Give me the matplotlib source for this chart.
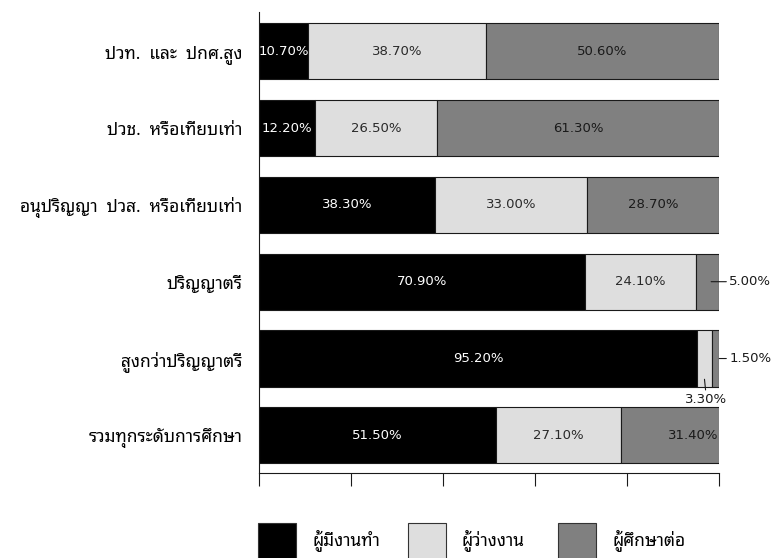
"""Horizontal 100% stacked bar chart of education level vs. employment status"""

import matplotlib
matplotlib.use("Agg")
import matplotlib.pyplot as plt
import numpy as np
from matplotlib.patches import Rectangle

# Data (top row first, as in the picture)
categories = [
    "ปวท.  และ  ปกศ.สูง",
    "ปวช.  หรือเทียบเท่า",
    "อนุปริญญา  ปวส.  หรือเทียบเท่า",
    "ปริญญาตรี",
    "สูงกว่าปริญญาตรี",
    "รวมทุกระดับการศึกษา",
]
employed = [10.7, 12.2, 38.3, 70.9, 95.2, 51.5]
unemployed = [38.7, 26.5, 33.0, 24.1, 3.3, 27.1]
studying = [50.6, 61.3, 28.7, 5.0, 1.5, 31.4]
series_names = ["ผู้มีงานทำ", "ผู้ว่างงาน", "ผู้ศึกษาต่อ"]

colors = ["#000000", "#dedede", "#808080"]
text_colors = ["white", "#2a2a2a", "#1a1a1a"]
thai_font = ["Noto Sans Thai Looped", "DejaVu Sans"]
num_font = ["DejaVu Sans"]

figure = plt.figure(figsize=(7.74, 5.58), dpi=100)
axes = figure.add_axes([0.3346, 0.1523, 0.5943, 0.8262])

y_pos = np.arange(len(categories))[::-1]
series = [employed, unemployed, studying]
lefts = np.zeros(len(categories))
for values, color, tcolor in zip(series, colors, text_colors):
    values = np.array(values)
    bars = axes.barh(y_pos, values, left=lefts, height=0.73, color=color,
                     edgecolor="#1a1a1a", linewidth=0.8)
    for bar, val in zip(bars, values):
        cx = bar.get_x() + bar.get_width() / 2
        cy = bar.get_y() + bar.get_height() / 2
        label = f"{val:.2f}%"
        if val >= 10:
            axes.text(cx, cy, label, ha="center", va="center", color=tcolor,
                      fontsize=9.5, family=num_font)
        elif color == "#808080":
            # small segment: label to the right with a leader line
            axes.annotate(label, xy=(cx + 0.8, cy), xytext=(102.2, cy),
                          ha="left", va="center", fontsize=9.5, family=num_font,
                          color="#1a1a1a", annotation_clip=False,
                          arrowprops=dict(arrowstyle="-", color="#1a1a1a", lw=0.8,
                                          shrinkA=0, shrinkB=0, relpos=(0, 0.5)))
        else:
            # small segment: label below the bar with a leader line
            axes.annotate(label, xy=(cx, cy - 0.27), xytext=(cx + 0.3, cy - 0.53),
                          ha="center", va="center", fontsize=9.5, family=num_font,
                          color="#1a1a1a", annotation_clip=False,
                          arrowprops=dict(arrowstyle="-", color="#1a1a1a", lw=0.8,
                                          shrinkA=0, shrinkB=0, relpos=(0.5, 1)))
    lefts = lefts + values

axes.set_xlim(0, 100)
axes.set_ylim(-0.49, 5.51)
axes.set_xticks(np.arange(0, 101, 20))
axes.set_xticklabels([])
axes.tick_params(axis="x", direction="out", length=9.5, width=0.8, color="#1a1a1a")
axes.set_yticks(y_pos)
axes.set_yticklabels(categories, family=thai_font, fontsize=12.5)
axes.tick_params(axis="y", length=0, pad=12)
for side in ("top", "right"):
    axes.spines[side].set_visible(False)
for side in ("left", "bottom"):
    axes.spines[side].set_linewidth(0.8)
    axes.spines[side].set_color("#1a1a1a")

# Legend drawn in figure pixels (squares are cut off by the bottom edge)
W, H = 774, 558
for i, (name, color) in enumerate(zip(series_names, colors)):
    x0 = 258 + 150 * i
    figure.add_artist(Rectangle((x0 / W, 1 - 563 / H), 38 / W, 40 / H,
                                transform=figure.transFigure, facecolor=color,
                                edgecolor="#333333", linewidth=0.8))
    figure.text((x0 + 54) / W, 1 - 540 / H, name, ha="left", va="center",
                fontsize=12.5, family=thai_font)

figure.savefig("out.png", dpi=100)
